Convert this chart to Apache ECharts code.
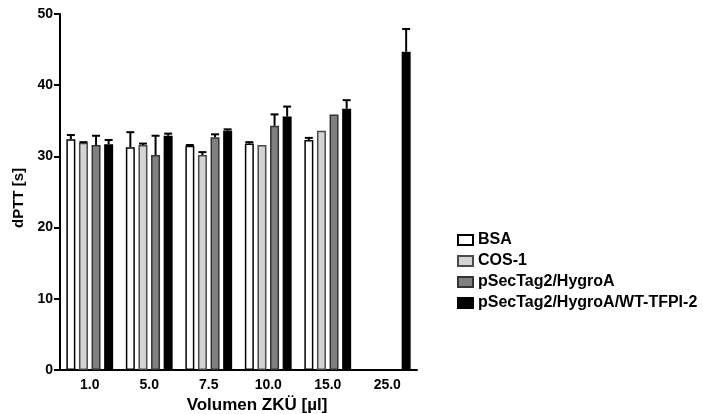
<!DOCTYPE html>
<html>
<head>
<meta charset="utf-8">
<script src="https://cdn.jsdelivr.net/npm/echarts@6/dist/echarts.min.js"></script>
<style>html,body{margin:0;padding:0;background:#fff}#c{width:703px;height:414px}</style>
</head>
<body>
<div id="c"></div>
<script>
const categories = ['1.0', '5.0', '7.5', '10.0', '15.0', '25.0'];
const seriesNames = ['BSA', 'COS-1', 'pSecTag2/HygroA', 'pSecTag2/HygroA/WT-TFPI-2'];
const bsa = [32.4, 31.3, 31.5, 31.8, 32.3, null];
const bsaErr = [0.6, 2.1, 0.1, 0.2, 0.3, null];
const cos = [31.9, 31.6, 30.2, 31.6, 33.6, null];
const cosErr = [0.1, 0.2, 0.4, 0, 0, null];
const psec = [31.6, 30.2, 32.7, 34.3, 35.9, null];
const psecErr = [1.3, 2.7, 0.4, 1.6, 0, null];
const tfpi = [31.7, 32.9, 33.6, 35.6, 36.7, 44.7];
const tfpiErr = [0.6, 0.3, 0.2, 1.4, 1.2, 3.2];
const yTicks = { min: 0, max: 50, interval: 10 };

const values = [bsa, cos, psec, tfpi];
const errors = [bsaErr, cosErr, psecErr, tfpiErr];
const fills = ['#ffffff', '#d4d4d4', '#808080', '#000000'];
const borders = ['#000000', '#4a4a4a', '#333333', '#000000'];
const FONT = 'Liberation Sans, Arial, sans-serif';
const BAR_W = 9, GAP = 0.4;
const groupW = 4 * BAR_W + 3 * BAR_W * GAP;

const series = [];
values.forEach((vals, k) => {
  series.push({
    name: seriesNames[k], type: 'bar', data: vals,
    barWidth: BAR_W, barGap: (GAP * 100) + '%',
    itemStyle: { color: fills[k], borderColor: borders[k], borderWidth: 1.5 },
    z: 2
  });
});
values.forEach((vals, k) => {
  const offset = -groupW / 2 + BAR_W / 2 + k * BAR_W * (1 + GAP);
  series.push({
    type: 'custom', name: seriesNames[k] + ' err', z: 3,
    data: vals.map((v, i) => [i, v, errors[k][i]]).filter(d => d[1] != null && d[2] > 0),
    encode: { x: 0, y: 1 },
    renderItem: function (params, api) {
      const i = api.value(0), v = api.value(1), e = api.value(2);
      const b = api.coord([i, v]);
      const t = api.coord([i, v + e]);
      const x = b[0] + offset;
      return {
        type: 'group', children: [
          { type: 'line', shape: { x1: x, y1: b[1], x2: x, y2: t[1] }, style: { stroke: '#000', lineWidth: 2 } },
          { type: 'line', shape: { x1: x - 4, y1: t[1], x2: x + 4, y2: t[1] }, style: { stroke: '#000', lineWidth: 2 } }
        ]
      };
    }
  });
});

const chart = echarts.init(document.getElementById('c'));
chart.setOption({
  animation: false,
  textStyle: { fontFamily: FONT },
  grid: { left: 60, right: 286, top: 14, bottom: 44, containLabel: false, outerBoundsMode: 'none' },
  legend: {
    data: seriesNames, orient: 'vertical', left: 452, top: 227,
    itemWidth: 15, itemHeight: 10, itemGap: 5,
    icon: 'rect',
    textStyle: { fontFamily: FONT, fontSize: 16, fontWeight: 'bold', color: '#000', lineHeight: 16 }
  },
  xAxis: {
    type: 'category', data: categories,
    axisLine: { lineStyle: { color: '#000', width: 2 } },
    axisTick: { show: false },
    axisLabel: { color: '#000', fontSize: 14, fontWeight: 'bold', fontFamily: FONT, margin: 8 },
    name: 'Volumen ZKÜ [µl]', nameLocation: 'middle', nameGap: 27,
    nameTextStyle: { color: '#000', fontSize: 17, fontWeight: 'bold', fontFamily: FONT, padding: [0, 0, 0, 37] }
  },
  yAxis: {
    type: 'value', min: yTicks.min, max: yTicks.max, interval: yTicks.interval,
    axisLine: { show: true, lineStyle: { color: '#000', width: 2 } },
    axisTick: { show: true, length: 6, lineStyle: { color: '#000', width: 2 } },
    splitLine: { show: false },
    axisLabel: { color: '#000', fontSize: 14, fontWeight: 'bold', fontFamily: FONT, margin: 7 },
    name: 'dPTT [s]', nameLocation: 'middle', nameGap: 34, nameRotate: 90,
    nameTextStyle: { color: '#000', fontSize: 15, fontWeight: 'bold', fontFamily: FONT, padding: [0, 12, 0, 0] }
  },
  series: series
});
</script>
</body>
</html>
